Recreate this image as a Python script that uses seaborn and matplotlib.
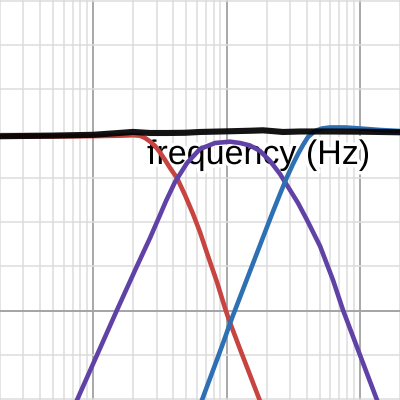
import matplotlib
matplotlib.use("Agg")
import matplotlib.pyplot as plt
import matplotlib.patheffects as pe
from matplotlib.ticker import LogLocator, MultipleLocator, NullFormatter
import numpy as np
import pandas as pd
import seaborn as sns

# ---- data (frequency in Hz, level in dB) ----
low_freq = [20, 56, 100, 159, 199, 224, 245, 267, 291, 317, 346, 377, 425, 488,
            561, 632, 726, 848, 974, 1044, 1262, 1500, 1783, 1900]
low_db = [-0.6, -0.65, -0.6, -0.5, -0.4, -0.5, -1.02, -1.81, -2.82, -4.29, -5.99,
          -7.79, -10.05, -13.90, -18.19, -22.26, -27.68, -33.56, -39.43, -42.14,
          -48.69, -54.56, -60.44, -63.0]

band_freq = [67, 75.6, 106.8, 150.8, 213, 266.7, 317, 351.6, 410.8, 505.4, 632.5,
             819.4, 1062, 1262, 1500, 1783, 2119, 2518, 2992, 3436, 4014, 5024,
             6288, 7472, 10024, 13448, 15400]
band_db = [-63.8, -60.21, -50.05, -39.88, -29.94, -23.61, -18.41, -15.25, -10.96,
           -6.67, -3.50, -2.15, -1.85, -2.15, -2.71, -3.95, -6.21, -9.15, -12.77,
           -15.70, -19.54, -25.42, -33.10, -39.88, -50.05, -60.21, -64.6]

high_freq = [611, 654.6, 778, 924.8, 1099, 1306, 1552, 1845, 2193, 2518, 2842, 3152,
             3436, 3746, 4084, 4608, 5200, 5970, 7734, 10024, 14158, 20000]
high_db = [-62.7, -60.21, -54.11, -48.01, -41.68, -35.81, -29.94, -24.06, -18.19,
           -13.67, -9.83, -6.89, -4.63, -2.60, -0.79, 0.56, 1.13, 1.36, 1.36, 1.13,
           0.79, 0.56]

sum_freq = [20, 47.4, 99.7, 145.7, 198.9, 266.7, 357.8, 488.3, 632.5, 1062, 1500,
            1877, 2652, 3557, 5970, 10024, 20000]
sum_db = [-0.62, -0.5, -0.3, 0.05, 0.35, 0.11, 0.11, 0.16, 0.34, 0.5, 0.62, 0.72,
          0.34, 0.45, 0.45, 0.41, 0.27]

label_text = "frequency (Hz)"

# ---- styling ----
RED, BLUE, PURPLE, BLACK = "#c74440", "#2d70b3", "#6042a6", "#000000"

sns.set_style("white")
plt.rcParams["font.family"] = ["Liberation Sans", "DejaVu Sans"]

fig = plt.figure(figsize=(4, 4), dpi=100)
ax = fig.add_axes([0, 0, 1, 1])

ax.set_xscale("log")
ax.set_xlim(20, 20000)
ax.set_ylim(-60.2, 30.15)

ax.xaxis.set_major_locator(LogLocator(base=10))
ax.xaxis.set_minor_locator(LogLocator(base=10, subs=np.arange(2, 10)))
ax.xaxis.set_minor_formatter(NullFormatter())
ax.yaxis.set_major_locator(MultipleLocator(10))

ax.set_axisbelow(True)
ax.grid(True, which="minor", axis="x", color="#dcdcdc", lw=1.1)
ax.grid(True, which="major", axis="y", color="#dcdcdc", lw=1.1)
ax.grid(True, which="major", axis="x", color="#9a9a9a", lw=1.2)
ax.axhline(-40, color="#9a9a9a", lw=1.2, zorder=0.6)

ax.tick_params(which="both", length=0, labelbottom=False, labelleft=False)
for s in ax.spines.values():
    s.set_visible(False)

ax.text(0.3675, 0.59, label_text, transform=ax.transAxes, ha="left",
        va="baseline", fontsize=24.5, color="black", zorder=2,
        path_effects=[pe.withStroke(linewidth=5, foreground="white")])

def draw(freq, db, color, lw, z, alpha=1.0):
    df = pd.DataFrame({"f": freq, "db": db})
    sns.lineplot(data=df, x="f", y="db", ax=ax, color=color, lw=lw,
                 estimator=None, sort=False, zorder=z, alpha=alpha,
                 solid_capstyle="round", solid_joinstyle="round")

draw(low_freq, low_db, RED, 3.3, 3)
draw(band_freq, band_db, PURPLE, 3.3, 4)
draw(high_freq, high_db, BLUE, 3.3, 5)
draw(sum_freq, sum_db, BLACK, 4.4, 6, alpha=0.92)

ax.set_xlabel("")
ax.set_ylabel("")
fig.savefig("out.png", dpi=100)
